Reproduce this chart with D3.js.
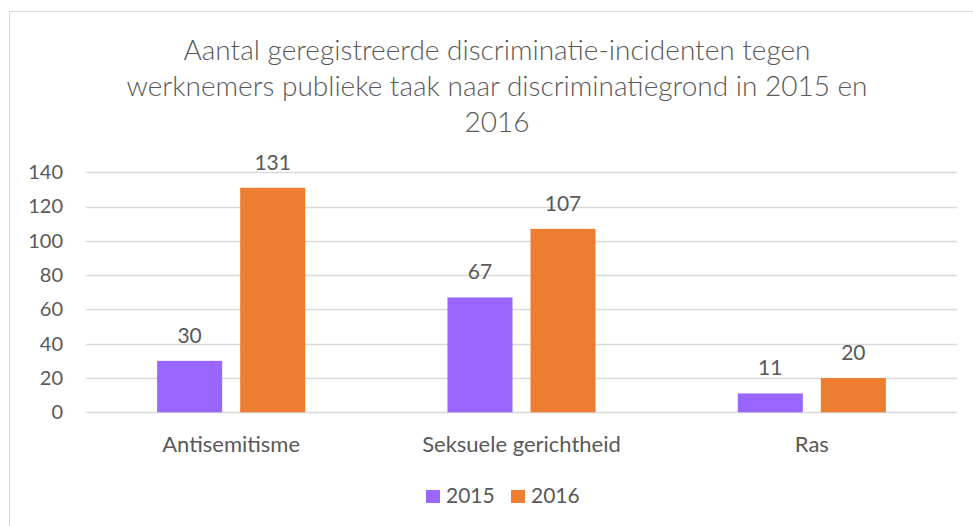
<!DOCTYPE html>
<html>
<head>
<meta charset="utf-8">
<script src="https://cdn.jsdelivr.net/npm/d3@7"></script>
<style>
  body { margin: 0; background: #fff; }
  text { font-family: Lato, "Open Sans", sans-serif; fill: #595959; }
</style>
</head>
<body>
<svg id="chart" width="973" height="526"></svg>
<script>
// data
var categories = ['Antisemitisme', 'Seksuele gerichtheid', 'Ras'];
var seriesNames = ['2015', '2016'];
var values2015 = [30, 67, 11];
var values2016 = [131, 107, 20];
var yTicks = [0, 20, 40, 60, 80, 100, 120, 140];
var titleLines = ['Aantal geregistreerde discriminatie-incidenten tegen',
    'werknemers publieke taak naar discriminatiegrond in 2015 en', '2016'];

var colors = ['#9966ff', '#ed7d31'];

var svg = d3.select('#chart'),
    plot = {left: 86, right: 957, top: 172.3, bottom: 412.3};

// chart border (runs off the right and bottom of the picture)
svg.append('rect')
    .attr('x', 9.5).attr('y', 11.5)
    .attr('width', 1000).attr('height', 600)
    .style('fill', 'none')
    .style('stroke', '#d9d9d9');

var x0 = d3.scaleBand().domain(categories).range([plot.left, plot.right])
    .paddingInner(0.49).paddingOuter(0.245);
var x1 = d3.scaleBand().domain(seriesNames).range([0, x0.bandwidth()])
    .paddingInner(0.217);
var y = d3.scaleLinear().domain([0, 140]).range([plot.bottom, plot.top]);

// title
svg.append('text')
    .attr('x', 497)
    .attr('text-anchor', 'middle')
    .style('font-size', '28px')
    .style('font-weight', 300)
    .selectAll('tspan')
    .data(titleLines)
    .enter()
    .append('tspan')
    .attr('x', 497)
    .attr('y', function(d, i) { return 60 + i * 36; })
    .text(function(d) { return d; });

// gridlines
svg.append('g')
    .selectAll('line')
    .data(yTicks)
    .enter()
    .append('line')
    .attr('x1', plot.left).attr('x2', plot.right)
    .attr('y1', function(d) { return Math.round(y(d)) + 0.5; })
    .attr('y2', function(d) { return Math.round(y(d)) + 0.5; })
    .style('stroke', '#d9d9d9')
    .style('stroke-width', 1.5);

// y axis labels
var yAxis = svg.append('g')
    .attr('transform', 'translate(' + (plot.left - 23) + ',0)')
    .call(d3.axisLeft(y).tickValues(yTicks).tickSize(0).tickPadding(0));
yAxis.select('.domain').remove();
yAxis.selectAll('text')
    .style('font-size', '20px')
    .style('font-family', 'Lato, "Open Sans", sans-serif')
    .attr('fill', '#595959');

// x axis labels
var xAxis = svg.append('g')
    .attr('transform', 'translate(0,' + (plot.bottom + 40) + ')')
    .call(d3.axisBottom(x0).tickSize(0).tickPadding(0));
xAxis.select('.domain').remove();
xAxis.selectAll('text')
    .attr('dy', 0)
    .style('font-size', '22px')
    .style('font-family', 'Lato, "Open Sans", sans-serif')
    .attr('fill', '#595959');

// bars
var rows = categories.map(function(c, i) {
    return {cat: c, vals: [
        {s: seriesNames[0], v: values2015[i]},
        {s: seriesNames[1], v: values2016[i]}
    ]};
});

var groups = svg.selectAll('.group')
    .data(rows)
    .enter()
    .append('g')
    .attr('class', 'group')
    .attr('transform', function(d) { return 'translate(' + x0(d.cat) + ',0)'; });

groups.selectAll('rect')
    .data(function(d) { return d.vals; })
    .enter()
    .append('rect')
    .attr('x', function(d) { return x1(d.s); })
    .attr('y', function(d) { return y(d.v); })
    .attr('width', x1.bandwidth())
    .attr('height', function(d) { return y(0) - y(d.v); })
    .style('fill', function(d, i) { return colors[i]; });

groups.selectAll('.lbl')
    .data(function(d) { return d.vals; })
    .enter()
    .append('text')
    .attr('class', 'lbl')
    .attr('x', function(d) { return x1(d.s) + x1.bandwidth() / 2; })
    .attr('y', function(d) { return y(d.v) - 18; })
    .attr('text-anchor', 'middle')
    .style('font-size', '21px')
    .text(function(d) { return d.v; });

// legend
var legend = svg.selectAll('.legend')
    .data(seriesNames)
    .enter()
    .append('g')
    .attr('class', 'legend')
    .attr('transform', function(d, i) { return 'translate(' + (426 + i * 85) + ',490)'; });

legend.append('rect')
    .attr('width', 14)
    .attr('height', 13)
    .style('fill', function(d, i) { return colors[i]; });

legend.append('text')
    .attr('x', 20)
    .attr('y', 13)
    .style('font-size', '21px')
    .text(function(d) { return d; });
</script>
</body>
</html>
